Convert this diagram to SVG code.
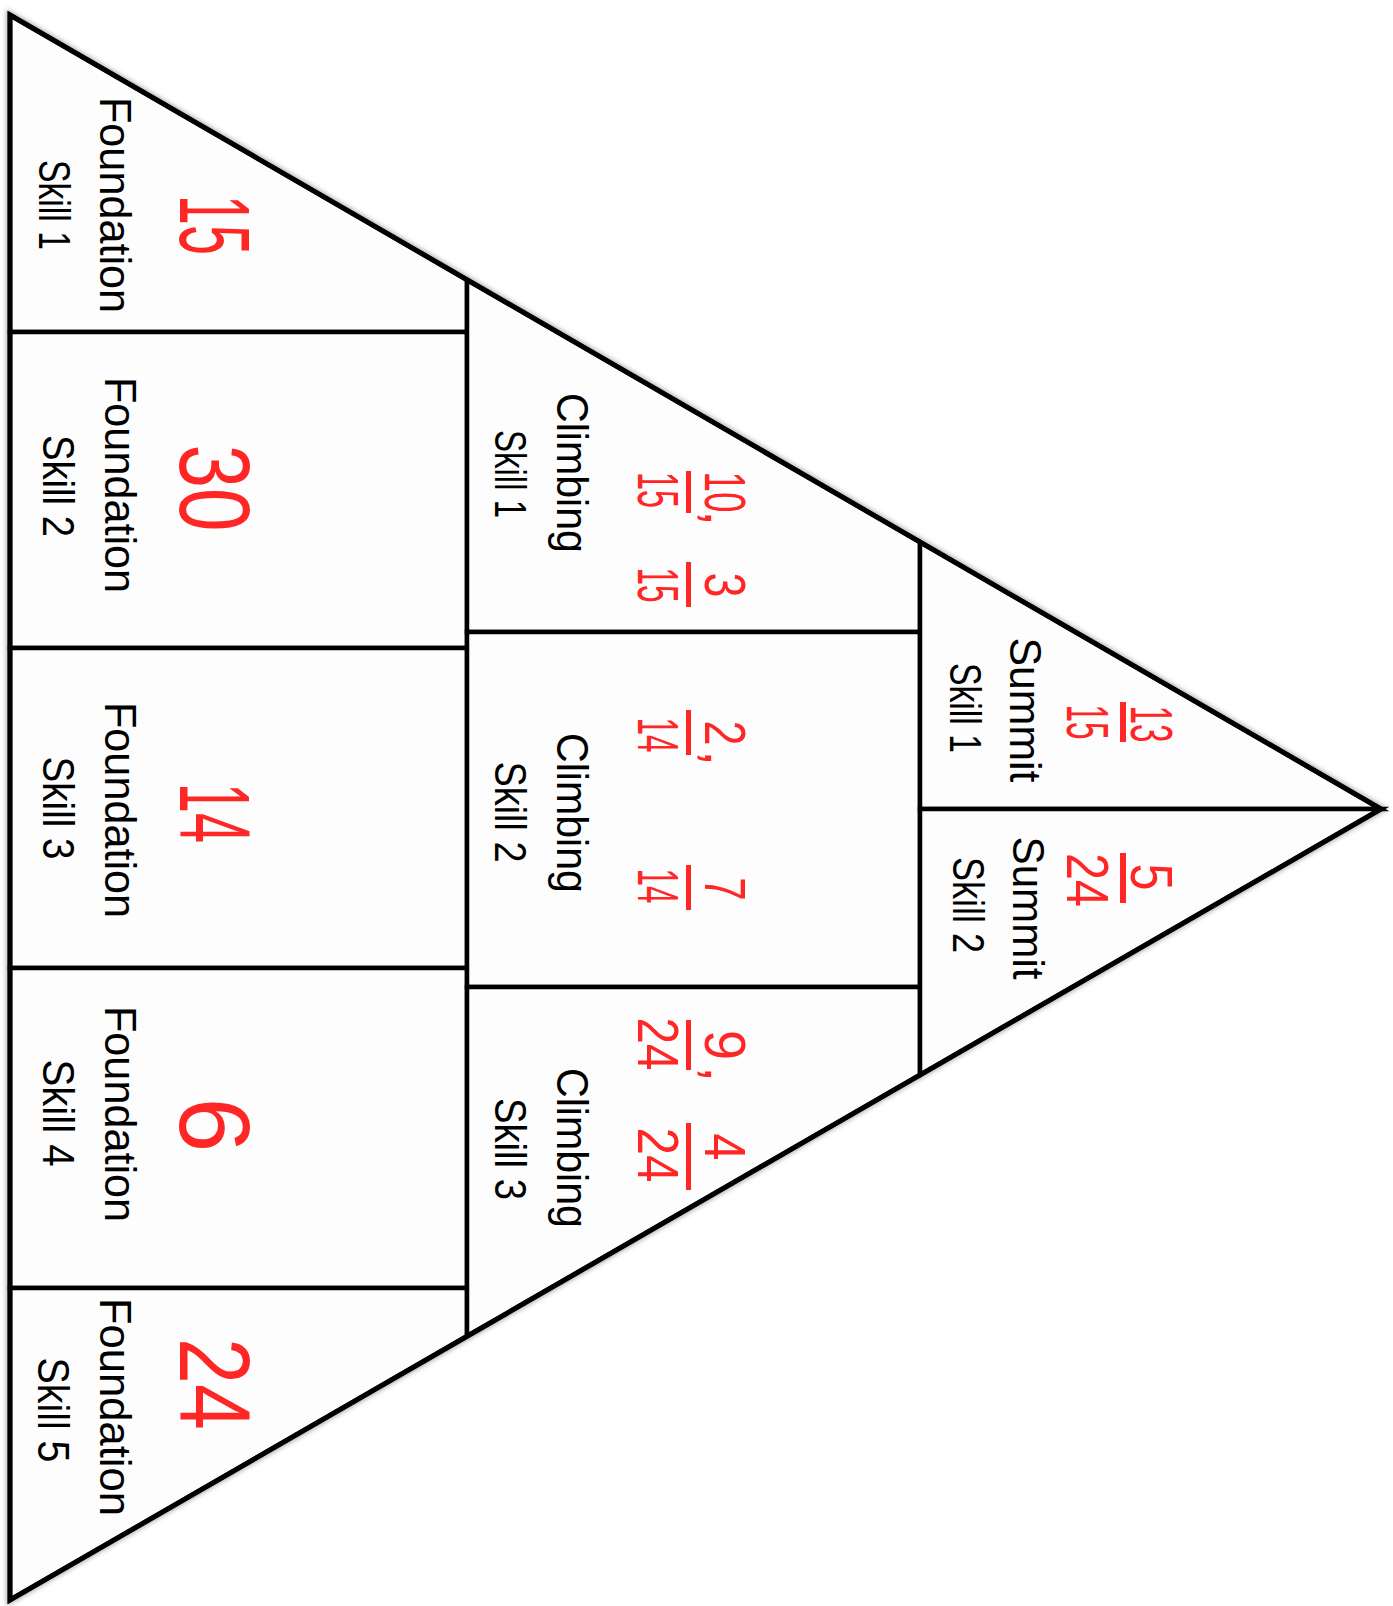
<svg xmlns="http://www.w3.org/2000/svg" width="1393" height="1606" viewBox="0 0 1393 1606">
  <defs>
    <filter id="shadow" x="-5%" y="-5%" width="110%" height="110%">
      <feGaussianBlur stdDeviation="2.5"/>
    </filter>
  </defs>
  <style>
    .cell { fill: #fdfdfd; stroke: #000; stroke-width: 4.5; stroke-linejoin: miter; }
    .outline { fill: none; stroke: #000; stroke-width: 5; stroke-linejoin: miter; stroke-miterlimit: 10; }
    .shadow { fill: none; stroke: #000; stroke-opacity: 0.35; stroke-width: 7; filter: url(#shadow); }
    .lbl { font-family: "Liberation Sans", Arial, sans-serif; font-size: 44px; fill: #000; text-anchor: middle; }
    .num { font-family: "Liberation Sans", Arial, sans-serif; font-size: 100px; fill: #ff2626; text-anchor: middle; }
    .fr { font-family: "Liberation Sans", Arial, sans-serif; font-size: 58px; fill: #ff2626; text-anchor: middle; }
    .frs { font-family: "Liberation Sans", Arial, sans-serif; font-size: 60px; fill: #ff2626; text-anchor: middle; }
    .bar { fill: #ff2626; }
  </style>
  <rect width="1393" height="1606" fill="#fff"/>
  <polygon class="shadow" points="10,15 1381,809 10,1600"/>

  <g id="foundation-1">
    <polygon class="cell" points="10,15 467,280 467,332 10,332"/>
    <text class="num" transform="translate(180,225) rotate(90)" textLength="60" lengthAdjust="spacingAndGlyphs">15</text>
    <text class="lbl" transform="translate(100,205) rotate(90)" textLength="216" lengthAdjust="spacingAndGlyphs">Foundation</text>
    <text class="lbl" transform="translate(39,205) rotate(90)" textLength="90" lengthAdjust="spacingAndGlyphs">Skill 1</text>
  </g>
  <g id="foundation-2">
    <polygon class="cell" points="10,332 467,332 467,648 10,648"/>
    <text class="num" transform="translate(180,488) rotate(90)" textLength="87" lengthAdjust="spacingAndGlyphs">30</text>
    <text class="lbl" transform="translate(105,485) rotate(90)" textLength="216" lengthAdjust="spacingAndGlyphs">Foundation</text>
    <text class="lbl" transform="translate(43,486) rotate(90)" textLength="102" lengthAdjust="spacingAndGlyphs">Skill 2</text>
  </g>
  <g id="foundation-3">
    <polygon class="cell" points="10,648 467,648 467,968 10,968"/>
    <text class="num" transform="translate(180,813) rotate(90)" textLength="60" lengthAdjust="spacingAndGlyphs">14</text>
    <text class="lbl" transform="translate(105,810) rotate(90)" textLength="216" lengthAdjust="spacingAndGlyphs">Foundation</text>
    <text class="lbl" transform="translate(43,808) rotate(90)" textLength="103" lengthAdjust="spacingAndGlyphs">Skill 3</text>
  </g>
  <g id="foundation-4">
    <polygon class="cell" points="10,968 467,968 467,1288 10,1288"/>
    <text class="num" transform="translate(180,1125) rotate(90)" textLength="55" lengthAdjust="spacingAndGlyphs">6</text>
    <text class="lbl" transform="translate(105,1114) rotate(90)" textLength="216" lengthAdjust="spacingAndGlyphs">Foundation</text>
    <text class="lbl" transform="translate(43,1113) rotate(90)" textLength="107" lengthAdjust="spacingAndGlyphs">Skill 4</text>
  </g>
  <g id="foundation-5">
    <polygon class="cell" points="10,1288 467,1288 467,1336 10,1600"/>
    <text class="num" transform="translate(180,1384) rotate(90)" textLength="92" lengthAdjust="spacingAndGlyphs">24</text>
    <text class="lbl" transform="translate(100,1407) rotate(90)" textLength="218" lengthAdjust="spacingAndGlyphs">Foundation</text>
    <text class="lbl" transform="translate(38,1410) rotate(90)" textLength="105" lengthAdjust="spacingAndGlyphs">Skill 5</text>
  </g>

  <g id="climbing-1">
    <polygon class="cell" points="467,280 920,542 920,632 467,632"/>
    <text class="lbl" transform="translate(557,473) rotate(90)" textLength="160" lengthAdjust="spacingAndGlyphs">Climbing</text>
    <text class="lbl" transform="translate(495,474) rotate(90)" textLength="88" lengthAdjust="spacingAndGlyphs">Skill 1</text>
    <text class="fr" transform="translate(705,492) rotate(90)" textLength="41" lengthAdjust="spacingAndGlyphs">10</text>
    <rect class="bar" x="686" y="471" width="5" height="42"/>
    <text class="fr" transform="translate(638,490) rotate(90)" textLength="36" lengthAdjust="spacingAndGlyphs">15</text>
    <text class="fr" transform="translate(705,518) rotate(90)">,</text>
    <text class="fr" transform="translate(705,585) rotate(90)" textLength="25" lengthAdjust="spacingAndGlyphs">3</text>
    <rect class="bar" x="686" y="562" width="5" height="45"/>
    <text class="fr" transform="translate(638,585) rotate(90)" textLength="35" lengthAdjust="spacingAndGlyphs">15</text>
  </g>
  <g id="climbing-2">
    <polygon class="cell" points="467,632 920,632 920,987 467,987"/>
    <text class="lbl" transform="translate(557,813) rotate(90)" textLength="160" lengthAdjust="spacingAndGlyphs">Climbing</text>
    <text class="lbl" transform="translate(495,812) rotate(90)" textLength="101" lengthAdjust="spacingAndGlyphs">Skill 2</text>
    <text class="fr" transform="translate(705,733) rotate(90)" textLength="25" lengthAdjust="spacingAndGlyphs">2</text>
    <rect class="bar" x="686" y="710" width="5" height="45"/>
    <text class="fr" transform="translate(638,735) rotate(90)" textLength="35" lengthAdjust="spacingAndGlyphs">14</text>
    <text class="fr" transform="translate(705,758) rotate(90)">,</text>
    <text class="fr" transform="translate(705,889) rotate(90)" textLength="23" lengthAdjust="spacingAndGlyphs">7</text>
    <rect class="bar" x="686" y="865" width="5" height="45"/>
    <text class="fr" transform="translate(638,886) rotate(90)" textLength="35" lengthAdjust="spacingAndGlyphs">14</text>
  </g>
  <g id="climbing-3">
    <polygon class="cell" points="467,987 920,987 920,1075 467,1336"/>
    <text class="fr" transform="translate(705,1045) rotate(90)" textLength="30" lengthAdjust="spacingAndGlyphs">9</text>
    <rect class="bar" x="686" y="1020" width="5" height="50"/>
    <text class="fr" transform="translate(638,1044) rotate(90)" textLength="53" lengthAdjust="spacingAndGlyphs">24</text>
    <text class="fr" transform="translate(705,1074) rotate(90)">,</text>
    <text class="fr" transform="translate(705,1147) rotate(90)" textLength="27" lengthAdjust="spacingAndGlyphs">4</text>
    <rect class="bar" x="686" y="1123" width="5" height="67"/>
    <text class="fr" transform="translate(638,1155) rotate(90)" textLength="55" lengthAdjust="spacingAndGlyphs">24</text>
    <text class="lbl" transform="translate(557,1148) rotate(90)" textLength="160" lengthAdjust="spacingAndGlyphs">Climbing</text>
    <text class="lbl" transform="translate(495,1149) rotate(90)" textLength="102" lengthAdjust="spacingAndGlyphs">Skill 3</text>
  </g>

  <g id="summit-1">
    <polygon class="cell" points="920,542 1381,809 920,809"/>
    <text class="frs" transform="translate(1131,724) rotate(90)" textLength="37" lengthAdjust="spacingAndGlyphs">13</text>
    <rect class="bar" x="1120" y="702" width="6" height="40"/>
    <text class="frs" transform="translate(1067,722) rotate(90)" textLength="35" lengthAdjust="spacingAndGlyphs">15</text>
    <text class="lbl" transform="translate(1010,710) rotate(90)" textLength="145" lengthAdjust="spacingAndGlyphs">Summit</text>
    <text class="lbl" transform="translate(950,708) rotate(90)" textLength="90" lengthAdjust="spacingAndGlyphs">Skill 1</text>
  </g>
  <g id="summit-2">
    <polygon class="cell" points="920,809 1381,809 920,1075"/>
    <text class="frs" transform="translate(1131,877) rotate(90)" textLength="27" lengthAdjust="spacingAndGlyphs">5</text>
    <rect class="bar" x="1120" y="853" width="6" height="50"/>
    <text class="frs" transform="translate(1067,880) rotate(90)" textLength="54" lengthAdjust="spacingAndGlyphs">24</text>
    <text class="lbl" transform="translate(1013,908) rotate(90)" textLength="143" lengthAdjust="spacingAndGlyphs">Summit</text>
    <text class="lbl" transform="translate(953,905) rotate(90)" textLength="96" lengthAdjust="spacingAndGlyphs">Skill 2</text>
  </g>

  <polygon class="outline" points="10,15 1381,809 10,1600"/>
</svg>
